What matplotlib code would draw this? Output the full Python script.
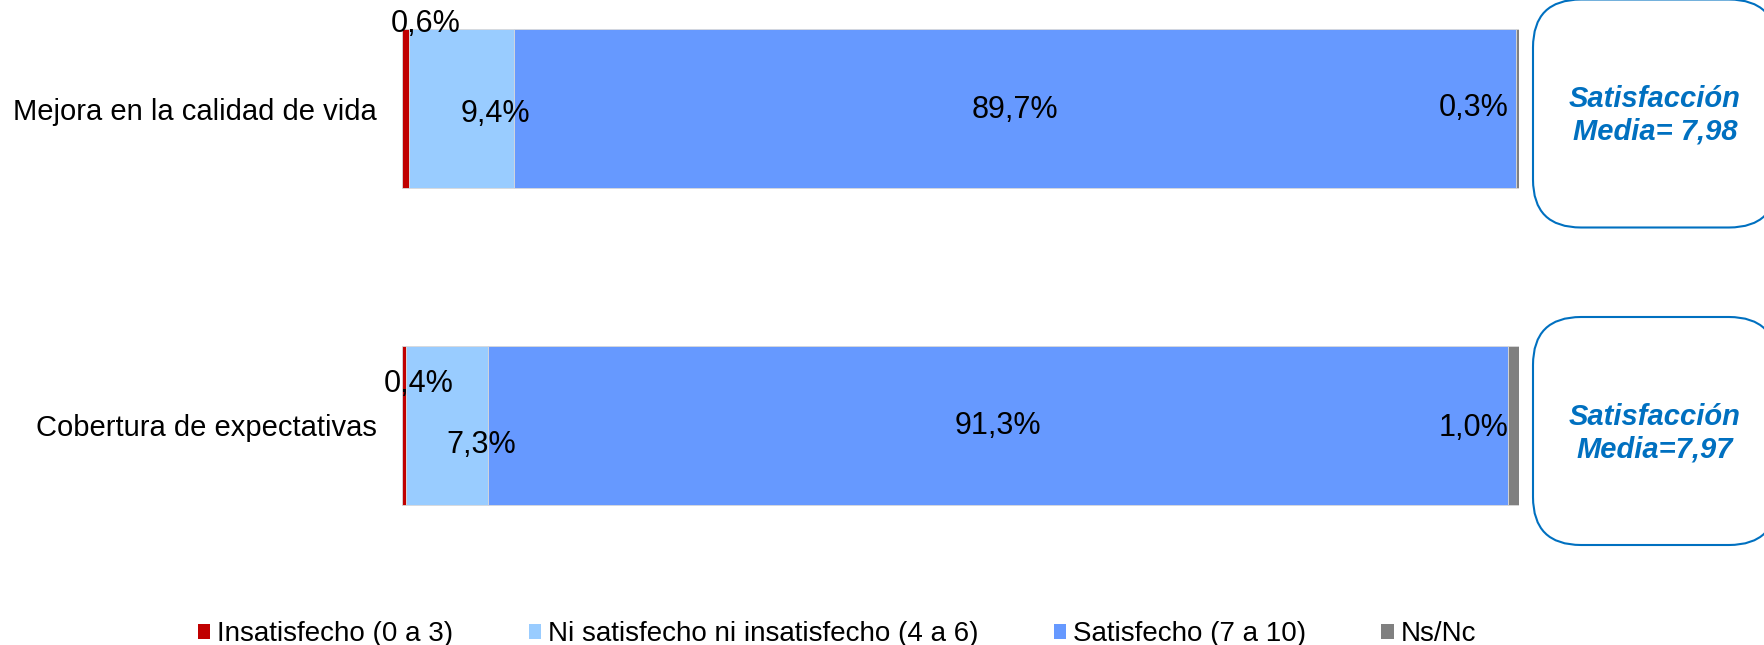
import matplotlib
matplotlib.use('Agg')
import matplotlib.pyplot as plt
from matplotlib.patches import Patch, FancyBboxPatch
from matplotlib.transforms import IdentityTransform
import numpy as np

plt.rcParams['font.family'] = ['Liberation Sans', 'DejaVu Sans']

# datos
categorias = ['Mejora en la calidad de vida', 'Cobertura de expectativas']
series = ['Insatisfecho (0 a 3)', 'Ni satisfecho ni insatisfecho (4 a 6)',
          'Satisfecho (7 a 10)', 'Ns/Nc']
insatisfecho = [0.6, 0.4]
ni_ni = [9.4, 7.3]
satisfecho = [89.7, 91.3]
ns_nc = [0.3, 1.0]
medias = ['Satisfacción\nMedia= 7,98', 'Satisfacción\nMedia=7,97']

colores = ['#C00000', '#99CCFF', '#6699FF', '#808080']

# desplazamiento de etiquetas (pixeles) por serie y categoría
offsets = [
    [(20, 85), (34, -5), (0, -1), (-44, 0)],
    [(14, 41), (34, -20), (0, -1), (-40, -3)],
]

W, H = 1764, 645
fig = plt.figure(figsize=(W / 100, H / 100), dpi=100)

# eje en coordenadas de pixel
ppu = 317
top_px = 108.5 - 0.34 * ppu
bot_px = 425.5 + 0.34 * ppu
ax = fig.add_axes([402 / W, (H - bot_px) / H, 1117 / W, (bot_px - top_px) / H])

valores = np.array([insatisfecho, ni_ni, satisfecho, ns_nc])
y = np.arange(len(categorias))
left = np.zeros(len(categorias))
for i, (vals, col, nombre) in enumerate(zip(valores, colores, series)):
    ax.barh(y, vals, left=left, height=0.5, color=col, edgecolor='#D9D9D9',
            linewidth=0.6, label=nombre)
    for j, v in enumerate(vals):
        dx, dy = offsets[j][i]
        ax.annotate(f'{v:.1f}%'.replace('.', ','), xy=(left[j] + v / 2, y[j]),
                    xytext=(dx, dy), textcoords='offset pixels',
                    ha='center', va='center', fontsize=22, color='black')
    left = left + vals

ax.set_xlim(0, 100)
ax.set_ylim(1.34, -0.34)
ax.set_yticks(y)
ax.set_yticklabels(categorias, fontsize=21)
ax.tick_params(axis='y', length=0, pad=18)
ax.set_xticks([])
for s in ax.spines.values():
    s.set_visible(False)

# cajas de satisfacción media
for j, texto in enumerate(medias):
    cy = [113.5, 431][j]
    caja = FancyBboxPatch((1533, H - cy - 114), 244, 228,
                          boxstyle='round,pad=0,rounding_size=48',
                          transform=IdentityTransform(), facecolor='white',
                          edgecolor='#0070C0', linewidth=1.5)
    fig.add_artist(caja)
    fig.text(1655 / W, (H - cy - 2) / H, texto, ha='center', va='center',
             fontsize=21, color='#0070C0', fontweight='bold', fontstyle='italic',
             linespacing=1.2)

handles = [Patch(facecolor=c, edgecolor='none') for c in colores]
fig.legend(handles, series, loc='center', bbox_to_anchor=(837 / W, 1 - 634 / H),
           ncol=4, frameon=False, fontsize=20, handlelength=0.45,
           handleheight=0.45, handletextpad=0.25, columnspacing=2.7)

fig.savefig('out.png', dpi=100)
